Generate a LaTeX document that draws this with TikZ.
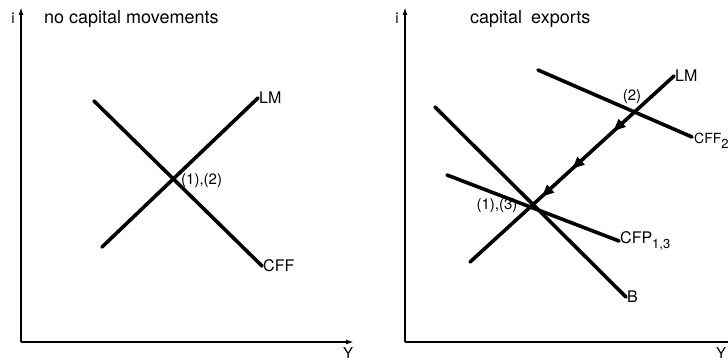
\documentclass[tikz,border=0pt]{standalone}
\usepackage{fontspec}
\setmainfont{TeX Gyre Heros}
\usepackage{tikz}
\usetikzlibrary{arrows.meta,decorations.markings}
\newcommand{\lowsub}[1]{\raisebox{-5pt}{\fontsize{13}{13}\selectfont #1}}
\tikzset{
  axisline/.style={line width=2.4pt, -{Latex[length=8pt,width=5pt]}},
  curve/.style={line width=3.6pt, line cap=round},
  curvelabel/.style={anchor=west, inner sep=1pt, font=\fontsize{16}{16}\selectfont},
  ptlabel/.style={inner sep=0pt, font=\fontsize{15}{15}\selectfont},
  paneltitle/.style={anchor=west, inner sep=0pt, font=\fontsize{18}{18}\selectfont},
  shiftpath/.style={line width=3.6pt,
    decoration={markings,
      mark=at position 0.20 with {\arrow{Triangle[length=12pt,width=10pt]}},
      mark=at position 0.62 with {\arrow{Triangle[length=12pt,width=10pt]}},
      mark=at position 0.93 with {\arrow{Triangle[length=12pt,width=10pt]}}},
    postaction={decorate}},
}

\begin{document}
\begin{tikzpicture}[x=1pt,y=-1pt]
  \useasboundingbox (0,0) rectangle (728,361);
  % Left panel: axes
  \coordinate (oL) at (21,342);
  \coordinate (iL) at (21,7);
  \coordinate (yL) at (354,342);
  \draw[axisline] (oL) -- (iL);
  \draw[axisline] (oL) -- (yL);
  \node[ptlabel] (iLlab) at (13,18) {i};
  \node[ptlabel] (yLlab) at (348,353) {Y};
  \node[paneltitle] (titleL) at (44,19) {no capital movements};
  % Left panel: curves
  \coordinate (cffA) at (94,101);
  \coordinate (cffB) at (262,266);
  \coordinate (lmA) at (102,247);
  \coordinate (lmB) at (258,98);
  \draw[curve] (cffA) -- (cffB);
  \draw[curve] (lmA) -- (lmB);
  \node[curvelabel] (cffL) at (cffB) {CFF};
  \node[curvelabel] (lmL) at (lmB) {LM};
  \node[ptlabel, anchor=west] (eqL) at (181,181) {(1),(2)};
  % Right panel: axes
  \coordinate (oR) at (405,342);
  \coordinate (iR) at (405,7);
  \coordinate (yR) at (736,342);
  \draw[axisline] (oR) -- (iR);
  \draw[axisline] (oR) -- (yR);
  \node[ptlabel] (iRlab) at (397,18) {i};
  \node[ptlabel] (yRlab) at (721,353) {Y};
  \node[paneltitle] (titleR) at (470,19) {capital\hspace{4pt} exports};
  % Right panel: curves
  \coordinate (cff2A) at (538,70);
  \coordinate (cff2B) at (692,137);
  \coordinate (lmRA) at (470,262);
  \coordinate (lmRB) at (674,76);
  \coordinate (bA) at (435,107);
  \coordinate (bB) at (626,297);
  \coordinate (cfpA) at (447,175);
  \coordinate (cfpB) at (619,241);
  \coordinate (e2) at (633,113);
  \coordinate (e13) at (535,203);
  \draw[curve] (cff2A) -- (cff2B);
  \draw[curve] (lmRA) -- (lmRB);
  \draw[curve] (bA) -- (bB);
  \draw[curve] (cfpA) -- (cfpB);
  \path[shiftpath] (e2) -- (e13);
  \node[curvelabel, inner sep=0pt, font=\fontsize{14}{14}\selectfont] (cff2L) at (694,141) {CFF\lowsub{2}};
  \node[curvelabel] (lmRL) at (lmRB) {LM};
  \node[curvelabel] (bL) at (bB) {B};
  \node[curvelabel] (cfpL) at (cfpB) {CFP\lowsub{1,3}};
  \node[ptlabel] (e2lab) at (632,97) {(2)};
  \node[ptlabel] (e13lab) at (497,206) {(1),(3)};
\end{tikzpicture}
\end{document}
